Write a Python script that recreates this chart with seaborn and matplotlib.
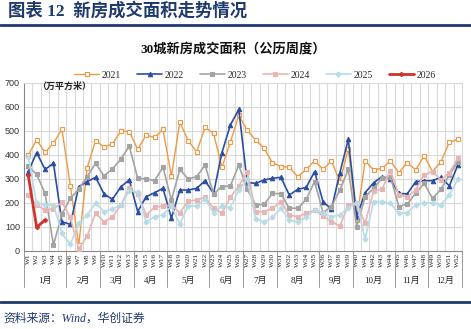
import numpy as np
import pandas as pd
import matplotlib
matplotlib.use("Agg")
import matplotlib.pyplot as plt
import matplotlib.transforms as mtransforms
from matplotlib.lines import Line2D
import seaborn as sns

# ---------------- data ----------------
weeks = [f"W{i}" for i in range(1, 53)]
months = ["1月", "2月", "3月", "4月", "5月", "6月", "7月", "8月", "9月", "10月", "11月", "12月"]
weeks_per_month = [5, 4, 4, 4, 5, 4, 4, 5, 4, 5, 4, 4]

y2021 = [400, 463, 411, 449, 508, 272, 25, 347, 460, 433, 446, 500, 497, 423, 483, 473, 507,
         312, 537, 459, 413, 515, 490, 349, 453, 565, 504, 462, 428, 367, 352, 349, 310, 340,
         376, 340, 375, 289, 425, 130, 375, 338, 344, 375, 326, 368, 338, 396, 331, 372, 453, 465]
y2022 = [330, 410, 340, 365, 122, 111, 268, 289, 307, 238, 215, 268, 296, 164, 226, 243, 261,
         137, 254, 254, 261, 293, 240, 410, 525, 590, 285, 282, 296, 303, 307, 233, 257, 265,
         331, 206, 174, 326, 465, 143, 243, 284, 310, 299, 240, 238, 289, 293, 293, 307, 271, 358]
y2023 = [354, 319, 240, 25, 154, 219, 258, 310, 365, 313, 342, 383, 437, 303, 300, 293, 349,
         212, 340, 300, 310, 358, 238, 268, 271, 358, 257, 192, 194, 240, 238, 178, 178, 215,
         289, 160, 185, 254, 340, 101, 226, 261, 303, 310, 185, 196, 240, 282, 219, 257, 317, 372]
y2024 = [233, 192, 171, 175, 203, 140, 7, 62, 157, 122, 142, 192, 262, 237, 150, 182, 188,
         190, 160, 208, 212, 224, 178, 157, 224, 271, 330, 164, 164, 178, 206, 150, 143, 157,
         171, 146, 122, 104, 192, 201, 115, 250, 257, 335, 233, 226, 254, 317, 331, 296, 326, 386]
y2025 = [393, 199, 192, 192, 73, 28, 115, 150, 199, 164, 175, 192, 252, 245, 122, 143, 150,
         188, 113, 188, 188, 215, 160, 188, 181, 254, 299, 132, 122, 140, 178, 129, 122, 140,
         172, 157, 143, 150, 178, 201, 50, 206, 206, 199, 157, 160, 192, 201, 201, 192, 233, 299]
y2026 = [317, 99, 129]

series = {"2021": y2021, "2022": y2022, "2023": y2023, "2024": y2024, "2025": y2025, "2026": y2026}

# ---------------- style ----------------
sns.set_theme(style="white")
plt.rcParams["font.family"] = ["Liberation Serif", "Noto Sans CJK SC", "DejaVu Sans"]
plt.rcParams["axes.unicode_minus"] = False

styles = {
    "2021": dict(color="#EE9A43", marker="s", mfc="white", ms=3.0, lw=1.0),
    "2022": dict(color="#2B4EA2", marker="^", mfc="#2B4EA2", ms=3.2, lw=1.2),
    "2023": dict(color="#A3A3A3", marker="s", mfc="#A3A3A3", ms=2.8, lw=1.2),
    "2024": dict(color="#E8B5B5", marker="s", mfc="#E8B5B5", ms=3.0, lw=1.2),
    "2025": dict(color="#B7DCE6", marker="D", mfc="#B7DCE6", ms=2.6, lw=1.2),
    "2026": dict(color="#D3312B", marker="D", mfc="#D3312B", ms=2.2, lw=2.0),
}

W, H = 471, 329
fig = plt.figure(figsize=(W / 100, H / 100), dpi=100)
fig.patch.set_facecolor("white")

ax_l, ax_r, ax_t, ax_b = 24, 462, 83, 251
ax = fig.add_axes([ax_l / W, 1 - ax_b / H, (ax_r - ax_l) / W, (ax_b - ax_t) / H])

rows = []
for name, vals in series.items():
    for i, v in enumerate(vals):
        rows.append({"year": name, "idx": i, "value": v})
df = pd.DataFrame(rows)

for name in series:
    st = styles[name]
    sub = df[df["year"] == name]
    sns.lineplot(data=sub, x="idx", y="value", ax=ax, color=st["color"], lw=st["lw"],
                 marker=st["marker"], markersize=st["ms"], markerfacecolor=st["mfc"],
                 markeredgecolor=st["color"], markeredgewidth=0.8, legend=False,
                 zorder=3 if name != "2026" else 4)

ax.set_xlim(-0.5, 51.5)
ax.set_ylim(0, 700)
ax.set_xlabel("")
ax.set_ylabel("")

# grid
ax.set_yticks(range(0, 701, 100))
ax.set_yticklabels([str(v) for v in range(0, 701, 100)], fontsize=6.5,
                   family=["Liberation Sans", "DejaVu Sans"], color="#333333")
ax.set_xticks(range(52))
ax.set_xticklabels(weeks, rotation=90, fontsize=5.2, color="#222222")
ax.set_xticks(np.arange(-0.5, 52, 1), minor=True)
ax.tick_params(axis="x", which="major", length=0, pad=1.5)
ax.tick_params(axis="x", which="minor", length=2.5, width=0.6, color="#888888")
ax.tick_params(axis="y", length=0, pad=3)
ax.grid(False)
for v in range(100, 701, 100):
    ax.axhline(v, color="#D9D9D9", lw=0.8, zorder=0)
for b in np.arange(0.5, 51, 1):
    ax.axvline(b, color="#D9D9D9", lw=0.8, zorder=0)
for s in ["top", "right"]:
    ax.spines[s].set_color("#D9D9D9")
    ax.spines[s].set_linewidth(0.8)
ax.spines["left"].set_color("#888888")
ax.spines["left"].set_linewidth(0.8)
ax.spines["bottom"].set_color("#888888")
ax.spines["bottom"].set_linewidth(0.8)

# month groups
trans = mtransforms.blended_transform_factory(ax.transData, ax.transAxes)
bounds = np.concatenate([[0], np.cumsum(weeks_per_month)]) - 0.5
sep_y = -(287 - ax_b) / (ax_b - ax_t)
lab_y = -(281 - ax_b) / (ax_b - ax_t)
for b in bounds:
    ax.add_line(Line2D([b, b], [0, sep_y], transform=trans, color="#999999", lw=0.7, clip_on=False))
for m, a, b in zip(months, bounds[:-1], bounds[1:]):
    ax.text((a + b) / 2, lab_y, m, transform=trans, ha="center", va="center", fontsize=6.5,
            color="#222222")

# unit label
fig.text(37 / W, 1 - 86 / H, "（万平方米）", fontsize=6.5, fontweight="bold", ha="left", va="center",
         color="#222222", family=["Noto Sans CJK SC"])

# legend
handles = []
for name in series:
    st = styles[name]
    handles.append(Line2D([0], [0], color=st["color"], lw=st["lw"], marker=st["marker"],
                          markersize=st["ms"], markerfacecolor=st["mfc"],
                          markeredgecolor=st["color"], markeredgewidth=0.8))
fig.legend(handles, list(series.keys()), loc="center", bbox_to_anchor=(255 / W, 1 - 75 / H),
           ncol=6, frameon=False, fontsize=7, handlelength=2.6, handletextpad=0.3,
           columnspacing=1.6)

# title
fig.text(233 / W, 1 - 49 / H, "30城新房成交面积（公历周度）", fontsize=9.5, fontweight="bold",
         ha="center", va="center", color="#111111")

# header
navy = "#1F3A6E"
fig.text(8 / W, 1 - 11 / H, "图表 12  新房成交面积走势情况", fontsize=12.5, fontweight="bold",
         ha="left", va="center", color=navy)
fig.add_artist(Line2D([0, 1], [1 - 24.5 / H, 1 - 24.5 / H], transform=fig.transFigure, color=navy, lw=2.0))

# footer
fig.add_artist(Line2D([0, 1], [1 - 302 / H, 1 - 302 / H], transform=fig.transFigure, color=navy, lw=2.0))
fig.text(3 / W, 1 - 319 / H, "资料来源：Wind，华创证券", fontsize=8.5, style="italic",
         ha="left", va="center", color=navy)

fig.savefig("out.png", dpi=100, facecolor="white")
